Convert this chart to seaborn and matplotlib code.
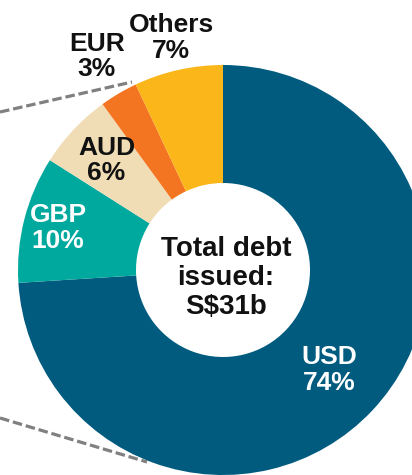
import numpy as np
import matplotlib
matplotlib.use('Agg')
import matplotlib.pyplot as plt
import seaborn as sns

# ── DATA ────────────────────────────────────────────────────────
currencies = ['USD', 'GBP', 'AUD', 'EUR', 'Others']
shares = [74, 10, 6, 3, 7]
colors = ['#005B7F', '#00A99D', '#F0DDB5', '#F37521', '#FBB719']
label_colors = ['white', 'white', '#111111', '#111111', '#111111']
center_text = 'Total debt\nissued:\nS$31b'

# ── STYLE ───────────────────────────────────────────────────────
sns.set_theme(style='white')
plt.rcParams['font.family'] = ['Liberation Sans', 'DejaVu Sans']

W, H = 412, 475
fig = plt.figure(figsize=(W / 100, H / 100), dpi=100)
ax = fig.add_axes([0, 0, 1, 1])

cx, cy = 223, H - 270
r_out, r_in = 205, 87

wedges, _ = ax.pie(shares, colors=colors, startangle=90, counterclock=False,
                   radius=r_out, center=(cx, cy),
                   wedgeprops=dict(width=r_out - r_in, linewidth=0))

# label distance (as fraction of outer radius) for each wedge
label_r = [0.71, 0.83, 0.78, 1.21, 1.16]
for w, name, pct, col, lr in zip(wedges, currencies, shares, label_colors, label_r):
    mid = np.deg2rad((w.theta1 + w.theta2) / 2)
    x = cx + lr * r_out * np.cos(mid)
    y = cy + lr * r_out * np.sin(mid)
    ax.text(x, y, f'{name}\n{pct}%', ha='center', va='center', color=col,
            fontsize=19, fontweight='bold', linespacing=1.1)

ax.text(cx + 3, cy - 8, center_text, ha='center', va='center', color='#111111',
        fontsize=20, fontweight='bold', linespacing=1.15)

# dashed connector lines coming in from the left
ax.plot([0, 132], [H - 112, H - 82], color='#808080', lw=2.3,
        dashes=(3, 1.2), solid_capstyle='butt')
ax.plot([0, 147], [H - 418, H - 462], color='#808080', lw=2.3,
        dashes=(3, 1.2), solid_capstyle='butt')

ax.set_xlim(0, W)
ax.set_ylim(0, H)
ax.set_aspect('equal')
ax.axis('off')

fig.savefig('out.png', dpi=100)
